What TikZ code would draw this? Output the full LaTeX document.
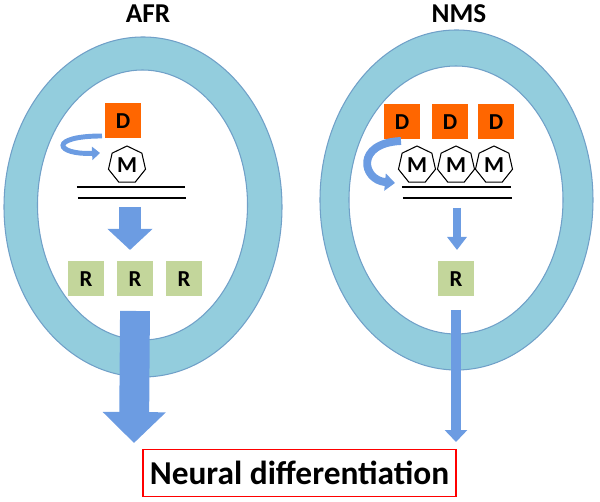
\documentclass[tikz,border=0pt]{standalone}
\usepackage{fontspec}
\setmainfont{Carlito}
\usetikzlibrary{arrows.meta, shapes.geometric}

\definecolor{ringblue}{RGB}{147,205,221}
\definecolor{ringedge}{RGB}{112,160,200}
\definecolor{dorange}{RGB}{255,102,0}
\definecolor{rgreen}{RGB}{195,214,155}
\definecolor{arrowblue}{RGB}{108,156,226}

\begin{document}
\begin{tikzpicture}[x=0.02cm, y=-0.02cm]
  \tikzstyle{ring}=[fill=ringblue, draw=ringedge, line width=0.6pt, even odd rule]
  \tikzstyle{dbox}=[fill=dorange, minimum width=7.2mm, minimum height=7mm, inner sep=0pt, font=\bfseries\fontsize{13}{13}\selectfont]
  \tikzstyle{rbox}=[fill=rgreen, minimum width=7.4mm, minimum height=7mm, inner sep=0pt, font=\bfseries\fontsize{13}{13}\selectfont]
  \tikzstyle{mhept}=[regular polygon, regular polygon sides=7, draw, fill=white, line width=0.6pt, minimum size=7.6mm, inner sep=0pt, font=\bfseries\fontsize{13}{13}\selectfont]
  \tikzstyle{title}=[font=\bfseries\fontsize{15.5}{15.5}\selectfont]
  \tikzstyle{dna}=[line width=1.2pt]
  \tikzstyle{flow}=[draw=arrowblue, line width=#1]

  \useasboundingbox (0,0) rectangle (600,502);

  % cells
  \filldraw[ring] (143,207) ellipse [x radius=139, y radius=170]
                  (142.5,205) ellipse [x radius=105, y radius=135];
  \filldraw[ring] (456.5,200) ellipse [x radius=136.5, y radius=170]
                  (456,200) ellipse [x radius=107, y radius=134];

  \node[title] (afr) at (148,14) {AFR};
  \node[title] (nms) at (459,14) {NMS};

  % AFR
  \node[dbox] (dL) at (123,121) {D};
  \node[mhept] (mL) at (127,165) {M};
  \draw[dna] (77,187) -- (185,187);
  \draw[dna] (78,198) -- (186,198);
  \node[rbox] (rL1) at (86,279) {R};
  \node[rbox] (rL2) at (135,279) {R};
  \node[rbox] (rL3) at (184,279) {R};

  % NMS
  \node[dbox] (dR1) at (402,122) {D};
  \node[dbox] (dR2) at (450,122) {D};
  \node[dbox] (dR3) at (496,122) {D};
  \node[mhept] (mR1) at (417,165) {M};
  \node[mhept] (mR2) at (456,165) {M};
  \node[mhept] (mR3) at (494,165) {M};
  \draw[dna] (402,187) -- (511,187);
  \draw[dna] (403,198) -- (512,198);
  \node[rbox] (rR) at (456,279) {R};

  \node[draw=red, line width=1.1pt, minimum width=62.6mm, minimum height=9.4mm, inner sep=0pt,
        font=\bfseries\fontsize{19}{19}\selectfont] (nd) at (299.5,473) {Neural differentiation};

  % arrows
  \coordinate (cL1) at (102,136);
  \coordinate (cL2) at (100,153);
  \coordinate (cR1) at (401,141);
  \coordinate (cR2) at (395,183);
  \coordinate (aL1) at (130,207);
  \coordinate (aL2) at (130,250);
  \coordinate (aR1) at (457,208);
  \coordinate (aR2) at (457,250);
  \coordinate (bL1) at (135,311);
  \coordinate (bL2) at (134,443);
  \coordinate (bR1) at (456,310);
  \coordinate (bR2) at (456,442);

  \draw[flow=2.8pt, -{Triangle[width=7.5pt, length=4.5pt]}] (cL1) .. controls (48,136) and (55,155) .. (cL2);
  \draw[flow=4.5pt, -{Triangle[width=9.6pt, length=5.7pt]}] (cR1) .. controls (355,143) and (362,180) .. (cR2);
  \draw[flow=12.5pt, -{Triangle[width=25pt, length=12pt]}] (aL1) -- (aL2);
  \draw[flow=5.1pt, -{Triangle[width=10.8pt, length=7.4pt]}] (aR1) -- (aR2);
  \draw[flow=17pt, -{Triangle[width=35pt, length=17.6pt]}] (bL1) -- (bL2);
  \draw[flow=6.2pt, -{Triangle[width=12.5pt, length=6.8pt]}] (bR1) -- (bR2);
\end{tikzpicture}
\end{document}
